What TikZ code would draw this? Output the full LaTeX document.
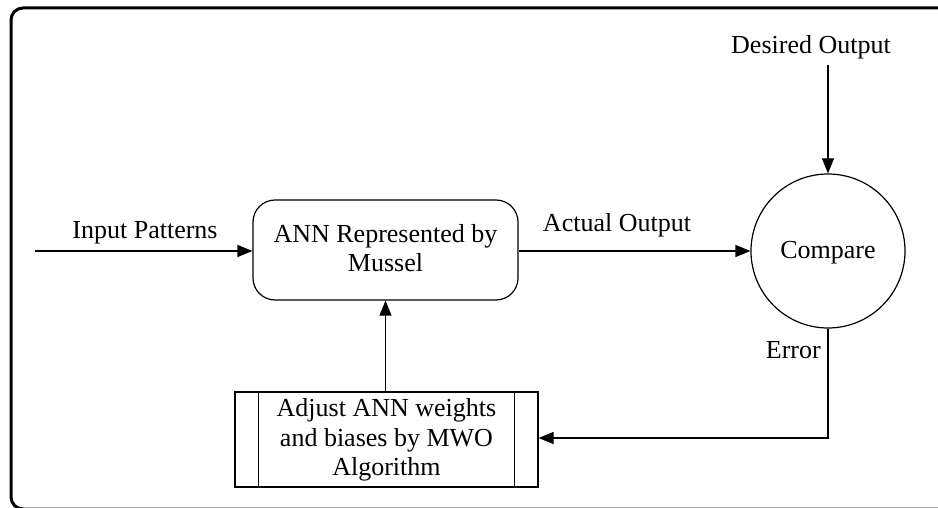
\documentclass[tikz,border=0pt]{standalone}
\usepackage{fontspec}
\setmainfont{Liberation Serif}
\usetikzlibrary{arrows.meta}
\begin{document}
\begin{tikzpicture}[x=1pt,y=-1pt,
  txt/.style={font=\fontsize{26}{29.5}\selectfont, align=center, inner sep=0pt},
  conn/.style={line width=1.2pt, -{Triangle[length=15pt,width=12pt]}},
  plain/.style={line width=1.2pt},
  box/.style={draw, line width=1.2pt, inner sep=0pt}]
\useasboundingbox (0,0) rectangle (938,508);
\begin{scope}
\clip (0,0) rectangle (938,508);
\draw[line width=3pt, rounded corners=12pt] (11,509) rectangle (980,8);
\end{scope}
% nodes
\node[box, rounded corners=22pt, minimum width=265pt, minimum height=100pt] (ann) at (385.5,250) {};
\node[txt] (anntext) at (385.5,248) {ANN Represented by\\Mussel};
\node[box, circle, minimum size=154pt] (cmp) at (828,251) {};
\node[txt] (cmptext) at (828,253) {Compare};
\node[box, minimum width=303pt, minimum height=95pt] (adj) at (386.5,439.5) {};
\node[txt] (adjtext) at (386.5,440) {Adjust ANN weights\\and biases by MWO\\Algorithm};
\draw[plain] ([xshift=24pt]adj.north west) -- ([xshift=24pt]adj.south west);
\draw[plain] ([xshift=-24pt]adj.north east) -- ([xshift=-24pt]adj.south east);
\node[txt] (desired) at (811,47) {Desired Output};
\node[txt] (inlab) at (145,233) {Input Patterns};
\node[txt] (actlab) at (617,225) {Actual Output};
\node[txt, anchor=east] (errlab) at (821,350) {Error};
% coordinates
\coordinate (in) at (35,251);
\coordinate (dtop) at (828,65);
\coordinate (corner) at (828,438);
% connectors
\draw[conn] (in) -- (ann.west |- in);
\draw[conn] (ann.east |- cmp.west) -- (cmp.west);
\draw[conn] (dtop) -- (cmp.north);
\draw[conn] (adj.north -| ann.south) -- (ann.south);
\draw[conn] (cmp.south) -- (corner) -- (adj.east |- corner);
\end{tikzpicture}
\end{document}
